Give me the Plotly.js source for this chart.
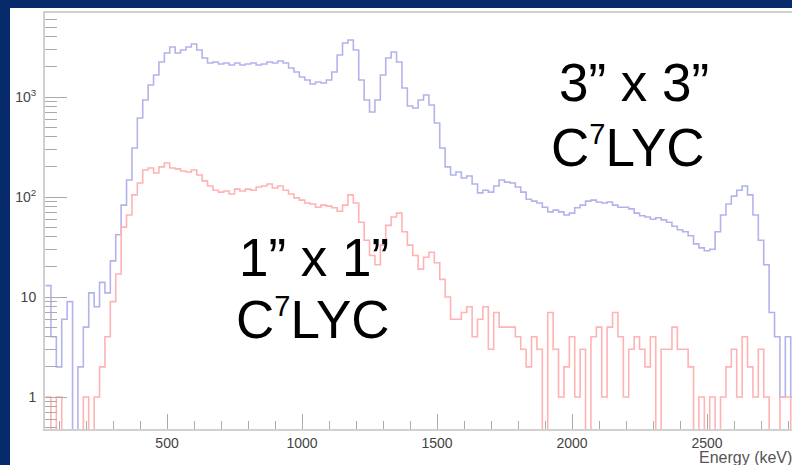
<!DOCTYPE html>
<html>
<head>
<meta charset="utf-8">
<script src="https://cdn.plot.ly/plotly-3.0.1.min.js"></script>
<style>
  html, body { margin:0; padding:0; width:792px; height:465px; overflow:hidden; background:#072a6b; }
  #chart { position:absolute; left:10px; top:8px; width:782px; height:457px; }
</style>
</head>
<body>
<div id="chart"></div>
<script>
// Histogram binning (keV)
const binStart = 50;
const binWidth = 20;

// 3" x 3" C7LYC counts per bin
const counts3x3 = [
  13, 4, 2, 6, 9, 0, 2, 5, 11, 8, 14, 11,
  23, 42, 83, 148, 309, 617, 933, 1318, 1660, 2239, 2754,
  3162, 2754, 2951, 3162, 3388, 2951, 2455, 2188, 2239, 2138, 2188,
  2089, 2188, 2089, 2138, 2188, 2089, 2138, 2239, 2188, 2291, 2188,
  1950, 1778, 1585, 1479, 1349, 1413, 1380, 1479, 1778, 2630, 3467,
  3715, 2951, 1479, 933, 708, 933, 1660, 2455, 2818, 2239, 1230,
  813, 776, 933, 1047, 832, 550, 309, 200, 166, 178, 155,
  162, 135, 110, 117, 112, 129, 148, 141, 138, 126, 112,
  95, 91, 87, 79, 71, 74, 71, 66, 69, 78, 83,
  91, 93, 89, 87, 89, 83, 79, 79, 76, 69, 65,
  63, 60, 62, 59, 56, 51, 47, 45, 41, 34, 31,
  29, 30, 45, 66, 85, 102, 117, 129, 105, 66, 37,
  21, 7, 4, 1, 4, 1
];

// 1" x 1" C7LYC counts per bin
const counts1x1 = [
  1, 0, 1, 0, 0, 0, 0, 1, 0, 1, 2, 4,
  9, 17, 50, 66, 105, 138, 186, 195, 174, 200, 219,
  195, 191, 182, 178, 186, 166, 145, 129, 117, 112, 115,
  107, 120, 115, 120, 117, 126, 129, 135, 123, 129, 117,
  107, 98, 93, 87, 85, 79, 83, 81, 78, 72, 83,
  105, 87, 56, 37, 26, 21, 33, 52, 63, 69, 45,
  33, 26, 19, 25, 28, 22, 15, 10, 6, 6, 7,
  8, 4, 6, 8, 3, 7, 5, 5, 5, 4, 3,
  2, 4, 3, 0, 7, 3, 1, 2, 4, 1, 3,
  0, 4, 5, 1, 5, 7, 4, 1, 3, 4, 3,
  2, 4, 0, 3, 3, 5, 3, 3, 2, 0, 1,
  0, 1, 0, 1, 2, 3, 1, 4, 2, 1, 3,
  1, 0, 0, 1, 1, 0
];

// Axis tick labels
const xTickVals = [500, 1000, 1500, 2000, 2500];
const yTickVals = [1, 10, 100, 1000];
const yTickText = ['1', '10', '10<sup>2</sup>', '10<sup>3</sup>'];

// Detector labels
const label3x3 = ['3\u201D x 3\u201D', 'C<sup><span style="font-size:29px">7</span></sup>LYC'];
const label1x1 = ['1\u201D x 1\u201D', 'C<sup><span style="font-size:29px">7</span></sup>LYC'];
const xTitle = 'Energy (keV)';

// Build step-histogram outlines (empty bins fall to the frame bottom)
function stepXY(counts) {
  const xs = [], ys = [];
  for (let i = 0; i < counts.length; i++) {
    xs.push(binStart + i * binWidth);
    ys.push(counts[i] > 0 ? counts[i] : 0.05);
  }
  xs.push(binStart + counts.length * binWidth);
  ys.push(counts[counts.length - 1] > 0 ? counts[counts.length - 1] : 0.05);
  return {xs, ys};
}
const s3 = stepXY(counts3x3);
const s1 = stepXY(counts1x1);

// minor ticks for the log axis
const yMinor = [];
for (let d = 0.1; d <= 1000; d *= 10) {
  for (let m = 2; m <= 9; m++) yMinor.push(+(m * d).toPrecision(3));
}

const traces = [
  { x: s3.xs, y: s3.ys, type: 'scatter', mode: 'lines',
    line: { shape: 'hv', color: '#b3b3ec', width: 1.6 }, hoverinfo: 'skip' },
  { x: s1.xs, y: s1.ys, type: 'scatter', mode: 'lines',
    line: { shape: 'hv', color: '#ffb3b3', width: 1.6 }, hoverinfo: 'skip' }
];

// pixel helpers for annotation placement (plot area: x 45..792, y 13..429 in page px)
const px = x => (x - 45) / 747;
const py = y => (429 - y) / 416;
const bigFont = { family: 'Liberation Sans, Arial, sans-serif', size: 53, color: '#000' };

const annotations = [
  { text: label3x3[0], x: px(634), y: py(83), xref: 'paper', yref: 'paper', showarrow: false, xanchor: 'center', yanchor: 'middle', font: bigFont },
  { text: label3x3[1], x: px(628), y: py(147), xref: 'paper', yref: 'paper', showarrow: false, xanchor: 'center', yanchor: 'middle', font: bigFont },
  { text: label1x1[0], x: px(314), y: py(257), xref: 'paper', yref: 'paper', showarrow: false, xanchor: 'center', yanchor: 'middle', font: bigFont },
  { text: label1x1[1], x: px(313), y: py(319), xref: 'paper', yref: 'paper', showarrow: false, xanchor: 'center', yanchor: 'middle', font: bigFont },
  { text: xTitle, x: px(697), y: py(457), xref: 'paper', yref: 'paper', showarrow: false, xanchor: 'left', yanchor: 'middle',
    font: { family: 'Liberation Sans, Arial, sans-serif', size: 16, color: '#555' } }
];

const tickFont = { family: 'Liberation Sans, Arial, sans-serif', size: 14, color: '#444' };

const layout = {
  width: 782, height: 457,
  margin: { l: 35, r: 0, t: 5, b: 36, pad: 0 },
  paper_bgcolor: '#ffffff', plot_bgcolor: '#ffffff',
  showlegend: false,
  xaxis: {
    range: [48, 2814.7], showgrid: false, zeroline: false,
    showline: true, linecolor: '#d0d0d0', linewidth: 2, mirror: true,
    ticks: 'inside', ticklen: 15, tickwidth: 1, tickcolor: '#aaa',
    tickmode: 'array', tickvals: xTickVals, ticktext: xTickVals.map(String),
    tickfont: tickFont,
    minor: { ticks: 'inside', ticklen: 8, tickcolor: '#aaa', tickwidth: 1, dtick: 100, tick0: 0, showgrid: false }
  },
  yaxis: {
    type: 'log', range: [-0.32, 3.84], showgrid: false, zeroline: false,
    showline: true, linecolor: '#d0d0d0', linewidth: 2,
    ticks: 'inside', ticklen: 22, tickwidth: 1, tickcolor: '#aaa',
    tickmode: 'array', tickvals: yTickVals, ticktext: yTickText,
    tickfont: tickFont, ticklabelstandoff: 4,
    minor: { ticks: 'inside', ticklen: 12, tickcolor: '#aaa', tickwidth: 1, tickmode: 'array', tickvals: yMinor, showgrid: false }
  },
  annotations: annotations
};

Plotly.newPlot('chart', traces, layout, { displayModeBar: false, staticPlot: true });
</script>
</body>
</html>
